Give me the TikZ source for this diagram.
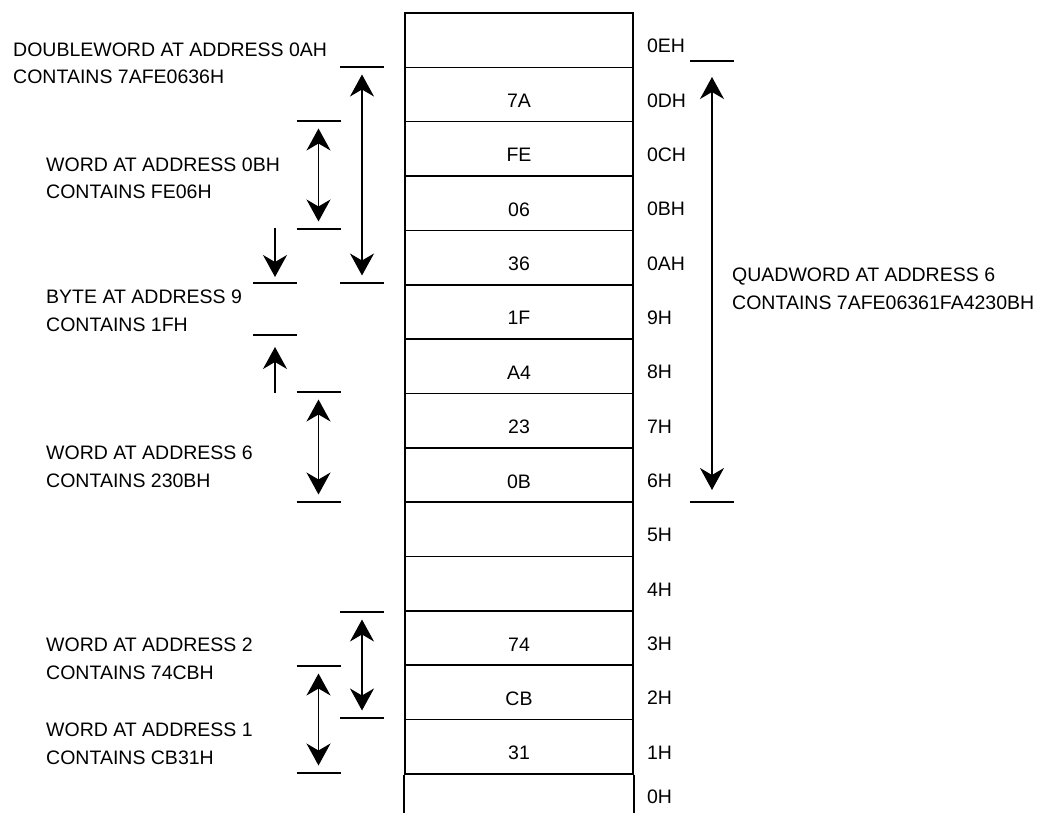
\documentclass[tikz,border=0pt]{standalone}
\usepackage{fontspec}
\setmainfont{Liberation Sans}
\usetikzlibrary{arrows.meta,calc}

\begin{document}
\begin{tikzpicture}[
  x=1pt,y=-1pt,
  every node/.style={font=\fontsize{19.5}{27.5}\selectfont},
  cell/.style={draw,line width=1.6pt,minimum width=228pt,minimum height=54.35pt,inner sep=0pt},
  val/.style={anchor=base,inner sep=0pt},
  addr/.style={anchor=base west,inner sep=0pt},
  note/.style={anchor=base west,align=left,inner sep=0pt},
  col/.style={line width=1.6pt},
  tickline/.style={line width=1.5pt},
  arrow/.style={{Stealth[length=22pt,width=24pt,inset=7pt]}-{Stealth[length=22pt,width=24pt,inset=7pt]},line width=1.4pt,shorten <=7.5pt,shorten >=7.5pt},
  onearrow/.style={-{Stealth[length=22pt,width=24pt,inset=7pt]},line width=1.4pt}
]
  \useasboundingbox (0,0) rectangle (1042,821);

  % memory column
  \foreach \v/\a [count=\i from 0, evaluate=\i as \y using 40.175+54.35*\i] in
    {{}/0EH,7A/0DH,FE/0CH,06/0BH,36/0AH,1F/9H,A4/8H,23/7H,0B/6H,{}/5H,{}/4H,74/3H,CB/2H,31/1H}{
    \node[cell] (c\i) at (519,\y) {};
    \node[val] (v\i) at ($(c\i.north)+(0,41)$) {\v};
    \node[addr] (a\i) at ($(c\i.north east)+(13,40.5)$) {\a};
  }
  \draw[col] (c13.south west) -- ++(0,38);
  \draw[col] (c13.south east) -- ++(0,38);
  \node[addr] (a14) at ($(c13.south east)+(13,29)$) {0H};

  % dimension ends
  \coordinate (dwT) at (362,67);   \coordinate (dwB) at (362,283);
  \coordinate (w0T) at (318.5,121); \coordinate (w0B) at (318.5,229);
  \coordinate (byT) at (275,283);  \coordinate (byB) at (275,335);
  \coordinate (byS) at (275,228);  \coordinate (byU) at (275,393);
  \coordinate (w6T) at (318.5,392); \coordinate (w6B) at (318.5,502);
  \coordinate (w2T) at (362,612);  \coordinate (w2B) at (362,718);
  \coordinate (w1T) at (318.5,666); \coordinate (w1B) at (318.5,773);
  \coordinate (qT) at (712,61);    \coordinate (qB) at (712,502);

  \foreach \t in {dwT,dwB,w0T,w0B,byT,byB,w6T,w6B,w2T,w2B,w1T,w1B,qT,qB}
    \draw[tickline] (\t) +(-22,0) -- +(22,0);

  \draw[arrow] (dwT) -- (dwB);
  \draw[arrow] (w0T) -- (w0B);
  \draw[onearrow,shorten >=6pt] (byS) -- (byT);
  \draw[onearrow,shorten >=12pt] (byU) -- (byB);
  \draw[arrow] (w6T) -- (w6B);
  \draw[arrow] (w2T) -- (w2B);
  \draw[arrow] (w1T) -- (w1B);
  \draw[arrow,shorten <=16pt,shorten >=12pt] (qT) -- (qB);

  % captions (base = last line)
  \node[note] (dw) at (13,84) {DOUBLEWORD AT ADDRESS 0AH\\CONTAINS 7AFE0636H};
  \node[note] (w0) at (46,199) {WORD AT ADDRESS 0BH\\CONTAINS FE06H};
  \node[note] (by) at (46,331) {BYTE AT ADDRESS 9\\CONTAINS 1FH};
  \node[note] (w6) at (46,487) {WORD AT ADDRESS 6\\CONTAINS 230BH};
  \node[note] (w2) at (46,679) {WORD AT ADDRESS 2\\CONTAINS 74CBH};
  \node[note] (w1) at (46,764) {WORD AT ADDRESS 1\\CONTAINS CB31H};
  \node[note] (qw) at (732,309) {QUADWORD AT ADDRESS 6\\CONTAINS 7AFE06361FA4230BH};
\end{tikzpicture}
\end{document}
